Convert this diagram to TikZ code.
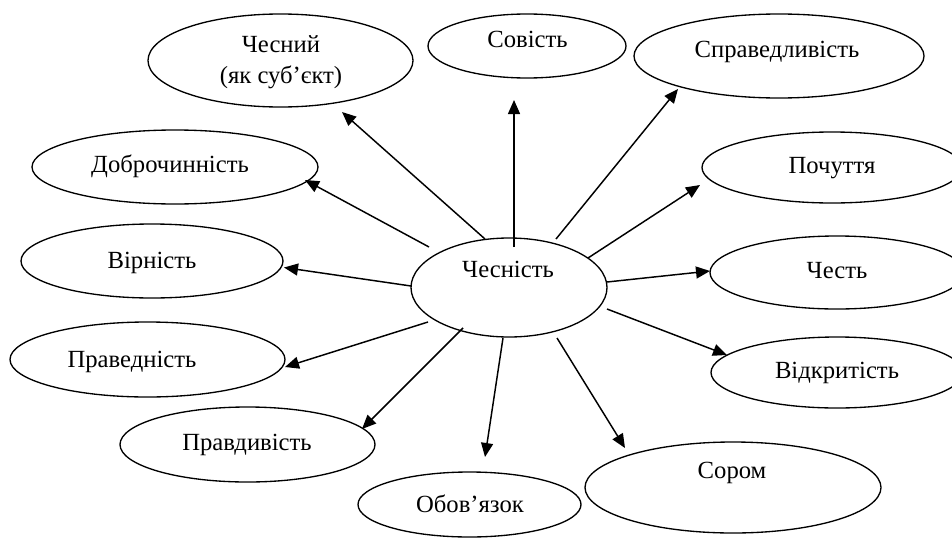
\documentclass[tikz,border=0pt]{standalone}
\usepackage{fontspec}
\setmainfont{Liberation Serif}
\usetikzlibrary{shapes.geometric,arrows.meta}
\begin{document}
\begin{tikzpicture}[x=0.75pt,y=-0.75pt,
  ell/.style={draw, ellipse, inner sep=0pt, line width=1pt},
  lbl/.style={anchor=base, inner sep=0pt, font=\fontsize{18.5}{23}\selectfont},
  arr/.style={line width=1.1pt, -{Triangle[length=10.5pt,width=9pt]}}]
\useasboundingbox (0,0) rectangle (952,539);
% ellipses
\node[ell, minimum width=147pt, minimum height=74.25pt] (c) at (509,287.5) {};
\node[ell, minimum width=198.75pt, minimum height=69.75pt] (chesnyi) at (280.5,60.5) {};
\node[ell, minimum width=148.5pt, minimum height=48pt] (sovist) at (527,46) {};
\node[ell, minimum width=217.5pt, minimum height=63pt] (sprav) at (779,56) {};
\node[ell, minimum width=195pt, minimum height=53.25pt] (poch) at (832,167.5) {};
\node[ell, minimum width=190.5pt, minimum height=54.75pt] (chest) at (837,272.5) {};
\node[ell, minimum width=189pt, minimum height=53.25pt] (vidkr) at (837,372.5) {};
\node[ell, minimum width=222pt, minimum height=68.25pt] (sorom) at (733,487.5) {};
\node[ell, minimum width=167.25pt, minimum height=48.75pt] (obov) at (469.5,504.5) {};
\node[ell, minimum width=191.25pt, minimum height=56.25pt] (pravdyv) at (247.5,444.5) {};
\node[ell, minimum width=206.25pt, minimum height=56.25pt] (praved) at (147.5,359.5) {};
\node[ell, minimum width=196.5pt, minimum height=55.5pt] (virn) at (152,261) {};
\node[ell, minimum width=214.5pt, minimum height=55.5pt] (dobro) at (175,167) {};
% labels
\node[lbl] (c-t) at (508,277) {Чесність};
\node[lbl] (chesnyi-t1) at (281,52) {Чесний};
\node[lbl] (chesnyi-t2) at (281,83) {(як суб’єкт)};
\node[lbl] (sovist-t) at (527.5,47) {Совість};
\node[lbl] (sprav-t) at (777,57) {Справедливість};
\node[lbl] (poch-t) at (832,173) {Почуття};
\node[lbl] (chest-t) at (837,278) {Честь};
\node[lbl] (vidkr-t) at (837,378) {Відкритість};
\node[lbl] (sorom-t) at (732,478) {Сором};
\node[lbl] (obov-t) at (470,512) {Обов’язок};
\node[lbl] (pravdyv-t) at (247,450) {Правдивість};
\node[lbl] (praved-t) at (132,367) {Праведність};
\node[lbl] (virn-t) at (152,268) {Вірність};
\node[lbl] (dobro-t) at (170,172.5) {Доброчинність};
% arrow end points
\coordinate (s1) at (485,239);  \coordinate (e1) at (342,112);
\coordinate (s2) at (429,247);  \coordinate (e2) at (305,180);
\coordinate (s3) at (411,286);  \coordinate (e3) at (284,267.5);
\coordinate (s4) at (428,322);  \coordinate (e4) at (285,367);
\coordinate (s5) at (463,328);  \coordinate (e5) at (362,429);
\coordinate (s6) at (503,338);  \coordinate (e6) at (485,457);
\coordinate (s7) at (557,338);  \coordinate (e7) at (625,448);
\coordinate (s8) at (607,309);  \coordinate (e8) at (727,355);
\coordinate (s9) at (607,282);  \coordinate (e9) at (710,271);
\coordinate (s10) at (588,258); \coordinate (e10) at (700,185);
\coordinate (s11) at (556,239); \coordinate (e11) at (678,89);
\coordinate (s12) at (514,247); \coordinate (e12) at (514,100);
\foreach \i in {1,...,12} \draw[arr] (s\i) -- (e\i);
\end{tikzpicture}
\end{document}
